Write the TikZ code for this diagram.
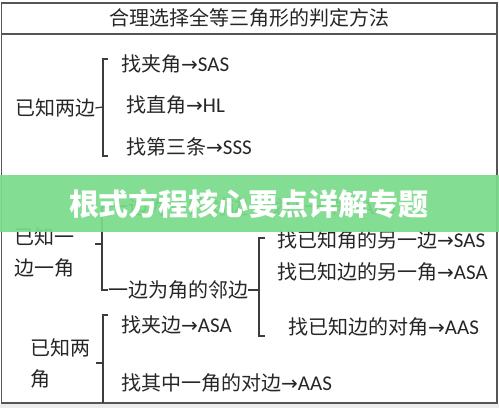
\documentclass[tikz,border=0pt]{standalone}
\usepackage{fontspec}
\setmainfont{Carlito}
\newfontfamily\cjk{Noto Sans CJK SC}
\newfontfamily\arrowfont{DejaVu Sans}
\newfontfamily\latinfont{Carlito}
\definecolor{frame}{HTML}{555555}
\definecolor{ink}{HTML}{262626}
\definecolor{banner}{RGB}{122,219,138}
\newcommand\arrowsym{{\arrowfont\fontsize{20}{20}\selectfont →}}
\newcommand\rul[2]{{\cjk #1}\arrowsym{\latinfont\fontsize{21}{21}\selectfont #2}}
\newcommand\rulb[3]{{\cjk #1}\arrowsym{\cjk #2}\arrowsym{\latinfont\fontsize{21}{21}\selectfont #3}}
\tikzset{
  lbl/.style={anchor=west,inner sep=0pt,text=ink,font=\cjk\fontsize{20}{31}\selectfont,align=left},
  brk/.style={draw=ink!90,line width=1.3pt},
}
\begin{document}
\begin{tikzpicture}[x=1pt,y=-1pt]
\useasboundingbox (0,0) rectangle (499,408);
\fill[white] (0,0) rectangle (499,408);
\fill[gray!15] (0,404) rectangle (499,408);
% frame
\draw[frame,line width=1.5pt] (1.5,3) rectangle (497,403);
\draw[frame,line width=1.5pt] (1.5,34) -- (497,34);
\node[inner sep=0pt,text=ink,font=\cjk\fontsize{20}{20}\selectfont] (title) at (249.5,18) {合理选择全等三角形的判定方法};

% section 1: two sides
\node[lbl] (A) at (15,108) {已知两边};
\coordinate (b1t) at (107.5,59);
\coordinate (b1m) at (103,107);
\coordinate (b1b) at (107.5,156);
\draw[brk] (b1t) -| (b1m) |- (b1b);
\draw[brk] (A.east) -- (b1m);
\node[lbl] (a1) at (121,64) {\rul{找夹角}{SAS}};
\node[lbl] (a2) at (126,105) {\rul{找直角}{HL}};
\node[lbl] (a3) at (126,147) {\rul{找第三条}{SSS}};

% section 2: one side one angle
\node[lbl] (B) at (14,252.5) {已知一\\边一角};
\coordinate (b2t) at (108,207);
\coordinate (b2m) at (102,244);
\coordinate (b2l) at (95,244);
\coordinate (b2b) at (108,290);
\draw[brk] (b2t) -| (b2m) |- (b2b);
\draw[brk] (b2l) -- (b2m);
\node[lbl] (opp) at (108,207) {\rulb{一边为角的对边}{找任一角}{AAS}};
\node[lbl] (adj) at (108,290) {一边为角的邻边};
\coordinate (b3t) at (265,238);
\coordinate (b3m) at (259,290);
\coordinate (b3b) at (265,336);
\draw[brk] (b3t) -| (b3m) |- (b3b);
\draw[brk] (adj.east) -- (b3m);
\node[lbl] (c1) at (277,240) {\rul{找已知角的另一边}{SAS}};
\node[lbl] (c2) at (277,272) {\rul{找已知边的另一角}{ASA}};
\node[lbl] (c3) at (288,327) {\rul{找已知边的对角}{AAS}};

% section 3: two angles
\node[lbl] (C) at (30,363) {已知两\\角};
\coordinate (b4t) at (108,315);
\coordinate (b4m) at (103,363);
\coordinate (b4l) at (96,363);
\coordinate (b4b) at (103,402.5);
\draw[brk] (b4t) -| (b4m) -- (b4b);
\draw[brk] (b4l) -- (b4m);
\node[lbl] (d1) at (121,325) {\rul{找夹边}{ASA}};
\node[lbl] (d2) at (121,383) {\rul{找其中一角的对边}{AAS}};

% banner
\fill[banner,opacity=0.93] (0,175) rectangle (499,232);
\node[inner sep=0pt,text=white,font=\cjk\bfseries\fontsize{30}{30}\selectfont] (ban) at (249,204) {根式方程核心要点详解专题};
\end{tikzpicture}
\end{document}
